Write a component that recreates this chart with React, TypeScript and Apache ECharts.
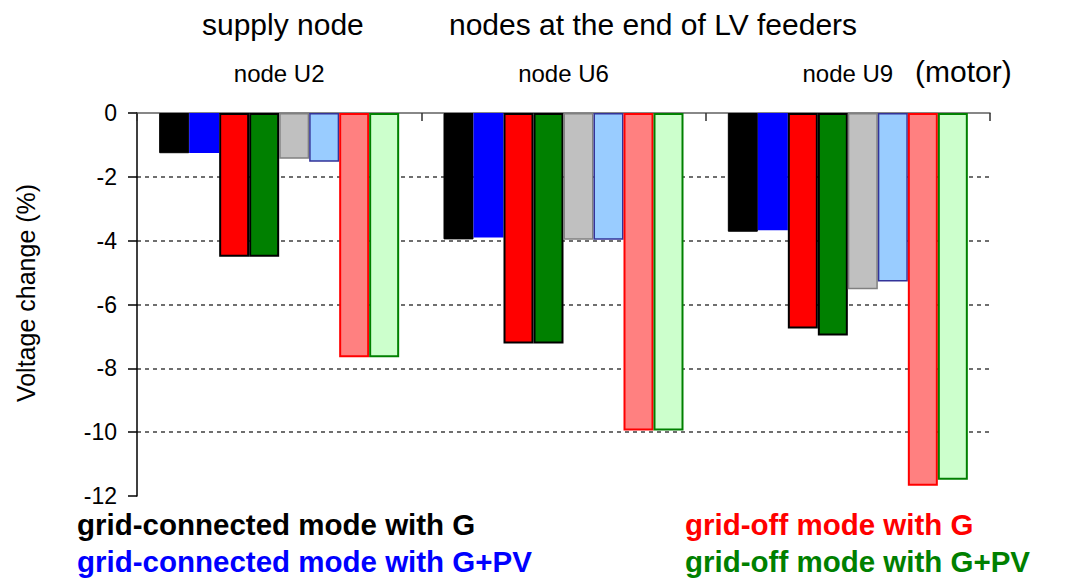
import React, { useEffect, useRef } from "react";
import * as echarts from "echarts";

const categories = ["node U2", "node U6", "node U9"];

const gcG = [-1.26, -3.96, -3.72];
const gcGPV = [-1.25, -3.9, -3.67];
const goG = [-4.5, -7.22, -6.75];
const goGPV = [-4.5, -7.22, -6.97];
const gcG2 = [-1.43, -3.97, -5.52];
const gcGPV2 = [-1.53, -3.97, -5.28];
const goG2 = [-7.65, -9.95, -11.68];
const goGPV2 = [-7.65, -9.95, -11.49];

const seriesNames = [
  "grid-connected mode with G",
  "grid-connected mode with G+PV",
  "grid-off mode with G",
  "grid-off mode with G+PV",
  "grid-connected mode with G (variant)",
  "grid-connected mode with G+PV (variant)",
  "grid-off mode with G (variant)",
  "grid-off mode with G+PV (variant)",
];
const seriesValues = [gcG, gcGPV, goG, goGPV, gcG2, gcGPV2, goG2, goGPV2];

const yMin = -12;
const yMax = 0;
const yInterval = 2;

const yAxisTitle = "Voltage change (%)";
const topTitles = ["supply node", "nodes at the end of LV feeders"];
const motorNote = "(motor)";
const legendLabels = [
  "grid-connected mode with G",
  "grid-connected mode with G+PV",
  "grid-off mode with G",
  "grid-off mode with G+PV",
];

const FONT = "'Liberation Sans', Arial, sans-serif";

const styles = [
  { fill: "#000000", stroke: "#000000", w: 1 },
  { fill: "#0000FF", stroke: "#0000FF", w: 0 },
  { fill: "#FF0000", stroke: "#000000", w: 2 },
  { fill: "#008000", stroke: "#000000", w: 2 },
  { fill: "#C0C0C0", stroke: "#808080", w: 1.5 },
  { fill: "#99CCFF", stroke: "#333399", w: 1.5 },
  { fill: "#FF8080", stroke: "#FF0000", w: 2 },
  { fill: "#CCFFCC", stroke: "#008000", w: 2 },
];

const legendColors = ["#000000", "#0000FF", "#FF0000", "#008000"];

export default function App() {
  const ref = useRef<HTMLDivElement>(null);

  useEffect(() => {
    if (!ref.current) return;
    const chart = echarts.init(ref.current, null, { renderer: "svg" });

    const series = seriesNames.map((name, i) => ({
      name,
      type: "bar",
      data: seriesValues[i],
      barWidth: 30,
      barGap: "0%",
      itemStyle: {
        color: styles[i].fill,
        borderColor: styles[i].stroke,
        borderWidth: styles[i].w,
      },
    }));

    const legendPos = [
      { x: 77, y: 524.5 },
      { x: 77, y: 561.5 },
      { x: 685, y: 524.5 },
      { x: 685, y: 561.5 },
    ];

    const graphic: any[] = [
      {
        type: "text",
        x: 202,
        y: 24.5,
        style: { text: topTitles[0], font: `30px ${FONT}`, fill: "#000", textAlign: "left", textVerticalAlign: "middle" },
      },
      {
        type: "text",
        x: 449,
        y: 24.5,
        style: { text: topTitles[1], font: `30px ${FONT}`, fill: "#000", textAlign: "left", textVerticalAlign: "middle" },
      },
      {
        type: "text",
        x: 915,
        y: 71.5,
        style: { text: motorNote, font: `30px ${FONT}`, fill: "#000", textAlign: "left", textVerticalAlign: "middle" },
      },
      {
        type: "text",
        x: 26,
        y: 293,
        rotation: Math.PI / 2,
        style: { text: yAxisTitle, font: `25px ${FONT}`, fill: "#000", textAlign: "center", textVerticalAlign: "middle" },
      },
      ...legendLabels.map((t, i) => ({
        type: "text",
        x: legendPos[i].x,
        y: legendPos[i].y,
        style: {
          text: t,
          font: `bold 29.5px ${FONT}`,
          fill: legendColors[i],
          textAlign: "left",
          textVerticalAlign: "middle",
        },
      })),
    ];

    chart.setOption({
      animation: false,
      backgroundColor: "#ffffff",
      grid: { left: 137, right: 102, top: 113, bottom: 83, containLabel: false },
      xAxis: {
        type: "category",
        data: categories,
        position: "top",
        axisLine: { show: true, onZero: true, lineStyle: { color: "#606060", width: 1.5 } },
        axisTick: { show: true, inside: true, length: 8, lineStyle: { color: "#303030", width: 1.5 } },
        axisLabel: { margin: 28, fontSize: 24, color: "#000", fontFamily: FONT },
        splitLine: { show: false },
      },
      yAxis: {
        type: "value",
        min: yMin,
        max: yMax,
        interval: yInterval,
        axisLine: { show: true, lineStyle: { color: "#000", width: 1.5 } },
        axisTick: { show: true, inside: false, length: 9, lineStyle: { color: "#000", width: 1.5 } },
        axisLabel: { margin: 20, fontSize: 23, color: "#000", fontFamily: FONT },
        splitLine: {
          show: true,
          showMinLine: false,
          showMaxLine: false,
          lineStyle: { color: "#404040", width: 1.5, type: [4, 4] },
        },
      },
      series,
      graphic,
    });

    return () => chart.dispose();
  }, []);

  return (
    <div
      ref={ref}
      style={{ position: "fixed", left: 0, top: 0, width: 1092, height: 579, background: "#fff" }}
    />
  );
}
